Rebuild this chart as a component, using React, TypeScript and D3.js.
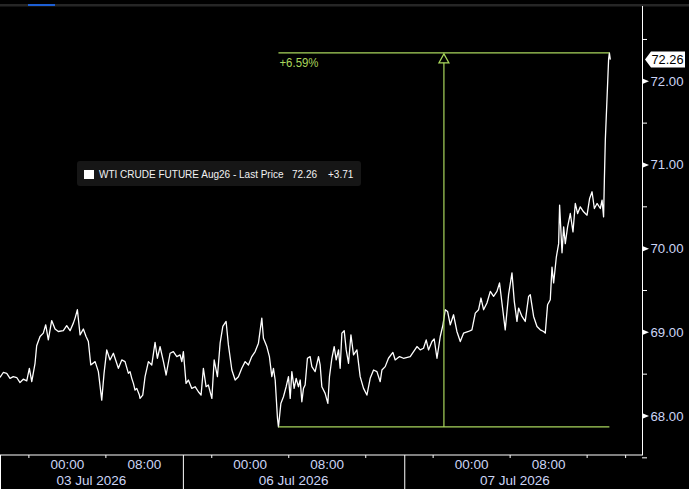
import * as d3 from "d3";

// x is measured in trading hours since the 03 Jul session opened (17:00 CT on 02 Jul);
// weekends and maintenance breaks are compressed out like on the terminal chart.
const hours = [
  0, 0.34, 0.7, 1.04, 1.38, 1.74, 2.08, 2.42, 2.78, 3.05, 3.3, 3.64, 3.81, 4.16, 4.5, 4.75,
  5.02, 5.37, 5.72, 6.06, 6.58, 6.93, 7.28, 7.62, 7.8, 8.04, 8.32, 8.66, 8.94, 9.18, 9.43,
  9.88, 10.22, 10.57, 10.81, 11.09, 11.43, 11.78, 12.3, 12.65, 12.99, 13.34, 13.51, 13.69,
  13.86, 14.03, 14.21, 14.48, 14.55, 14.83, 15.07, 15.42, 15.77, 16.11, 16.35, 16.63, 16.98,
  17.26, 17.67, 18.01, 18.37, 18.71, 18.89, 19.05, 19.33, 19.57, 19.93, 20.27, 20.61, 20.89,
  21.13, 21.41, 21.65, 22.01, 22.25, 22.59, 22.87, 23.15, 23.49, 23.73, 24.09, 24.43, 24.77,
  25.12, 25.47, 25.81, 26.16, 26.51, 26.85, 27.2, 27.37, 27.72, 27.99, 28.24, 28.41, 28.59,
  28.83, 28.93, 29.18, 29.45, 29.73, 29.97, 30.15, 30.32, 30.56, 30.77, 31.01, 31.19, 31.36,
  31.53, 31.7, 31.94, 32.22, 32.4, 32.74, 33.09, 33.26, 33.44, 33.78, 34.06, 34.23, 34.48,
  34.72, 34.93, 35.17, 35.34, 35.52, 35.76, 35.97, 36.21, 36.46, 36.73, 37.08, 37.42, 37.77,
  38.12, 38.46, 38.81, 39.16, 39.5, 39.68, 40.02, 40.36, 40.82, 41.06, 41.51, 41.92, 42.62,
  43.32, 43.66, 44.0, 44.28, 44.52, 44.88, 45.11, 45.4, 45.74, 46.02, 46.26, 46.5, 46.78,
  47.12, 47.47, 47.82, 48.16, 48.68, 49.03, 49.38, 49.72, 49.97, 50.24, 50.59, 50.94, 51.28,
  51.63, 51.9, 52.15, 52.49, 52.84, 53.19, 53.43, 53.71, 53.88, 54.23, 54.57, 54.92, 55.09,
  55.44, 55.79, 56.13, 56.48, 56.65, 56.89, 57.17, 57.35, 57.52, 57.8, 58.04, 58.14, 58.39,
  58.56, 58.73, 58.97, 59.25, 59.53, 59.77, 60.01, 60.29, 60.63, 60.99, 61.26, 61.51, 61.75,
  62.03, 62.37, 62.55, 62.71, 62.79, 62.89, 63.06, 63.23, 63.31, 63.41,
];

const prices = [
  68.46, 68.52, 68.51, 68.45, 68.47, 68.46, 68.4, 68.44, 68.42, 68.57, 68.41, 68.63, 68.84,
  68.95, 68.99, 69.09, 68.91, 69.14, 69.04, 69.01, 69.02, 69.08, 69.02, 69.11, 69.17, 69.27,
  68.97, 69.04, 68.95, 68.89, 68.61, 68.65, 68.53, 68.19, 68.51, 68.79, 68.67, 68.75, 68.57,
  68.67, 68.65, 68.51, 68.53, 68.45, 68.39, 68.31, 68.33, 68.25, 68.21, 68.25, 68.47, 68.65,
  68.61, 68.88, 68.69, 68.83, 68.65, 68.49, 68.75, 68.77, 68.71, 68.73, 68.65, 68.77, 68.39,
  68.43, 68.33, 68.35, 68.29, 68.25, 68.57, 68.35, 68.37, 68.21, 68.67, 68.47, 68.87, 69.07,
  69.13, 68.85, 68.55, 68.43, 68.47, 68.57, 68.65, 68.61, 68.71, 68.77, 68.87, 69.17, 68.93,
  68.83, 68.71, 68.47, 68.57, 68.43, 67.97, 67.87, 68.15, 68.23, 68.35, 68.47, 68.21, 68.53,
  68.33, 68.45, 68.35, 68.43, 68.17, 68.33, 68.37, 68.69, 68.71, 68.59, 68.53, 68.71, 68.61,
  68.35, 68.27, 68.15, 68.47, 68.69, 68.83, 68.67, 68.79, 68.57, 68.99, 69.02, 68.79, 68.63,
  68.97, 68.73, 68.79, 68.47, 68.33, 68.25, 68.45, 68.55, 68.53, 68.41, 68.55, 68.59, 68.69,
  68.76, 68.67, 68.71, 68.69, 68.71, 68.83, 68.79, 68.81, 68.91, 68.79, 68.89, 68.92, 68.69,
  68.95, 69.09, 69.27, 69.25, 69.09, 69.21, 69.01, 68.89, 68.99, 69.01, 69.03, 69.23, 69.27,
  69.41, 69.27, 69.35, 69.49, 69.43, 69.49, 69.59, 69.35, 69.03, 69.45, 69.71, 69.37, 69.13,
  69.29, 69.19, 69.13, 69.43, 69.45, 69.19, 69.07, 69.03, 69.01, 68.99, 69.33, 69.39, 69.78,
  69.59, 69.9, 70.06, 70.52, 69.95, 70.26, 70.06, 70.26, 70.42, 70.2, 70.54, 70.42, 70.5,
  70.44, 70.4, 70.6, 70.68, 70.48, 70.54, 70.48, 70.58, 70.38, 70.82, 71.3, 71.78, 72.26,
  72.34, 72.26,
];

const netChange = 3.71;
const seriesName = "WTI CRUDE FUTURE Aug26 - Last Price";

// axis furniture
const sessionBreaks = [0, 19, 42];
const minorHourTicks = [3, 11, 22, 30, 38, 45, 53, 61, 65];
const timeLabelHours = [7, 15, 26, 34, 49, 57];
const timeLabels = ["00:00", "08:00", "00:00", "08:00", "00:00", "08:00"];
const dateLabelHours = [9.5, 30.5, 53.5];
const dateLabels = ["03 Jul 2026", "06 Jul 2026", "07 Jul 2026"];
const priceTicks = [68, 69, 70, 71, 72];
const halfTicks = [67.5, 68.5, 69.5, 70.5, 71.5, 72.5];

const W = 689;
const H = 489;
const plotRight = 642;
const plotBottom = 455;
const font = "'Liberation Sans', Arial, sans-serif";
const green = "#a9d65c";
const axisText = "#ccd5f5";

export default function App() {
  const x = d3.scaleLinear().domain([0, 66.7]).range([0, plotRight]);
  const y = d3.scaleLinear().domain([68, 72]).range([416, 81.3]);

  const pts = hours.map((h, i) => [h, prices[i]] as [number, number]);
  const line = d3
    .line<[number, number]>()
    .x((d) => x(d[0]))
    .y((d) => y(d[1]));

  const hi = d3.maxIndex(prices);
  const lo = d3.minIndex(prices);
  const x0 = x(hours[lo]);
  const x1 = x(hours[hi]);
  const yHi = y(prices[hi]);
  const yLo = y(prices[lo]);
  const xMid = (x0 + x1) / 2;
  const pct = ((prices[hi] / prices[lo] - 1) * 100).toFixed(2);
  const last = prices[prices.length - 1];
  const yLast = y(last);

  return (
    <svg
      width={W}
      height={H}
      style={{ position: "absolute", left: 0, top: 0, display: "block", background: "#000" }}
      fontFamily={font}
    >
      <rect width={W} height={H} fill="#000" />
      {/* header strip */}
      <rect x={0} y={4} width={W} height={2.5} fill="#262626" />
      <rect x={28} y={4} width={27} height={2} fill="#1d5fd3" />

      {/* legend */}
      <rect x={77} y={161} width={284} height={25} rx={3} fill="#161616" />
      <rect x={84} y={170} width={10} height={9} fill="#fff" />
      <text y={178} fontSize={10} fill="#f2f2f2">
        <tspan x={99}>{seriesName}</tspan>
        <tspan x={292}>{last.toFixed(2)}</tspan>
        <tspan x={328}>{"+" + netChange.toFixed(2)}</tspan>
      </text>

      {/* price line */}
      <path d={line(pts) ?? ""} fill="none" stroke="#fff" strokeWidth={1.3} strokeLinejoin="round" />

      {/* high-low measurement */}
      <line x1={x0} x2={x1} y1={yHi} y2={yHi} stroke={green} strokeWidth={1.2} />
      <line x1={x0} x2={x1} y1={yLo} y2={yLo} stroke={green} strokeWidth={1.2} />
      <line x1={xMid} x2={xMid} y1={yHi + 10} y2={yLo} stroke={green} strokeWidth={1.2} />
      <path
        d={`M${xMid},${yHi + 1} L${xMid - 5},${yHi + 10} L${xMid + 5},${yHi + 10} Z`}
        fill="none"
        stroke={green}
        strokeWidth={1.2}
      />
      <text x={x0 + 1} y={yHi + 14} fontSize={13} fill={green} textLength={39} lengthAdjust="spacingAndGlyphs">
        {"+" + pct + "%"}
      </text>

      {/* y axis */}
      <line x1={plotRight + 0.5} x2={plotRight + 0.5} y1={6} y2={plotBottom} stroke="#fff" />
      {halfTicks.map((v) => (
        <line key={v} x1={plotRight} x2={plotRight + 5} y1={y(v)} y2={y(v)} stroke="#fff" />
      ))}
      {priceTicks.map((v) => (
        <g key={v} transform={`translate(${plotRight},${y(v)})`}>
          <path d="M1,-2.5 L7,0 L1,2.5 Z" fill="#fff" />
          <text x={8.5} y={4.5} fontSize={13.5} fill={axisText} textLength={33} lengthAdjust="spacingAndGlyphs">
            {v.toFixed(2)}
          </text>
        </g>
      ))}
      <g transform={`translate(${plotRight},${yLast})`}>
        <path d="M3,0 L9,-8 L43,-8 L43,8 L9,8 Z" fill="#fff" />
        <text x={9.5} y={4.5} fontSize={13.5} fill="#000" textLength={32} lengthAdjust="spacingAndGlyphs">
          {last.toFixed(2)}
        </text>
      </g>

      {/* x axis */}
      <line x1={0} x2={plotRight + 1} y1={plotBottom} y2={plotBottom} stroke="#fff" />
      {sessionBreaks.map((h) => (
        <line key={h} x1={x(h) + 0.5} x2={x(h) + 0.5} y1={plotBottom} y2={H} stroke="#fff" />
      ))}
      {minorHourTicks.map((h) => (
        <line key={h} x1={x(h)} x2={x(h)} y1={plotBottom} y2={plotBottom + 3} stroke="#fff" />
      ))}
      {timeLabelHours.map((h, i) => (
        <text key={h} x={x(h)} y={469} fontSize={13.5} fill={axisText} textAnchor="middle">
          {timeLabels[i]}
        </text>
      ))}
      {dateLabelHours.map((h, i) => (
        <text key={h} x={x(h)} y={485} fontSize={13.5} fill={axisText} textAnchor="middle">
          {dateLabels[i]}
        </text>
      ))}
    </svg>
  );
}
